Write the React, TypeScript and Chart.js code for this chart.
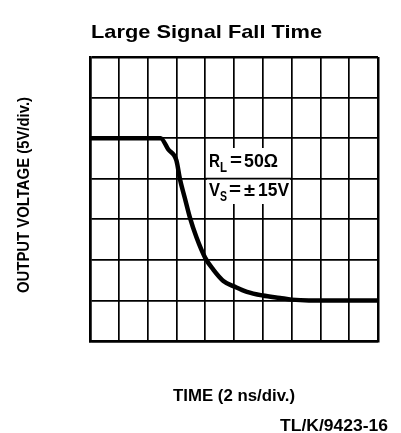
import React, { useEffect, useRef } from "react";
import { Chart, registerables } from "chart.js";

Chart.register(...registerables);

// Time in divisions (2 ns/div), 0..10
const TIME_DIV = [0, 2.45, 2.72, 3.0, 3.12, 3.29, 3.47, 3.7, 4.0, 4.28, 4.63, 5.02, 5.45, 6.0, 6.6, 7.0, 7.6, 10];
// Output voltage in divisions (5 V/div), 0..7
const VOLT_DIV = [5, 5, 4.72, 4.45, 4.0, 3.53, 3.04, 2.55, 2.05, 1.76, 1.48, 1.34, 1.21, 1.12, 1.06, 1.02, 1.0, 1.0];

const X_MAX = 10;
const Y_MAX = 7;

const TITLE = "Large Signal Fall Time";
const Y_LABEL = "OUTPUT VOLTAGE (5V/div.)";
const X_LABEL = "TIME (2 ns/div.)";
const FIG_ID = "TL/K/9423-16";

const FONT = '"Liberation Sans", Arial, sans-serif';

function drawFit(ctx: CanvasRenderingContext2D, text: string, x: number, y: number, w: number, font: string, align: "left" | "center") {
  ctx.save();
  ctx.font = font;
  const m = ctx.measureText(text).width;
  const s = w / m;
  ctx.translate(x, y);
  ctx.scale(s, 1);
  ctx.textAlign = align;
  ctx.textBaseline = "alphabetic";
  ctx.fillText(text, 0, 0);
  ctx.restore();
}

const textPlugin = {
  id: "texts",
  beforeDatasetsDraw(chart: any) {
    const ctx = chart.ctx as CanvasRenderingContext2D;
    const xs = chart.scales.x;
    const ys = chart.scales.y;
    // white box behind annotation
    ctx.save();
    ctx.fillStyle = "#fff";
    ctx.fillRect(207, 148, 83, 56);
    ctx.strokeStyle = "#000";
    ctx.lineWidth = 1.7;
    ctx.beginPath();
    const yl = ys.getPixelForValue(4);
    ctx.moveTo(xs.getPixelForValue(4), yl);
    ctx.lineTo(xs.getPixelForValue(7), yl);
    ctx.stroke();
    ctx.restore();
  },
  afterDraw(chart: any) {
    const ctx = chart.ctx as CanvasRenderingContext2D;
    ctx.save();
    ctx.fillStyle = "#000";
    // title
    drawFit(ctx, TITLE, 91, 38, 231, "bold 19px " + FONT, "left");
    // annotation R_L = 50Ω
    const big = "bold 19px " + FONT;
    const small = "bold 15px " + FONT;
    drawFit(ctx, "R", 209, 167, 11, big, "left");
    drawFit(ctx, "L", 220, 172, 7, small, "left");
    drawFit(ctx, "=", 230, 166, 12, big, "left");
    drawFit(ctx, "50\u03A9", 244, 167, 34, big, "left");
    // V_S = ±15V
    drawFit(ctx, "V", 209, 196, 11, big, "left");
    drawFit(ctx, "S", 220, 201, 7, small, "left");
    drawFit(ctx, "=", 229, 195, 12, big, "left");
    drawFit(ctx, "\u00B1", 244, 196, 11, big, "left");
    drawFit(ctx, "15V", 258, 196, 31, big, "left");
    // x label
    drawFit(ctx, X_LABEL, 234, 401, 122, "bold 17px " + FONT, "center");
    // figure id
    drawFit(ctx, FIG_ID, 280, 431, 108, "bold 17px " + FONT, "left");
    // y label rotated
    ctx.save();
    ctx.translate(29, 195);
    ctx.rotate(-Math.PI / 2);
    drawFit(ctx, Y_LABEL, 0, 0, 196, "bold 17px " + FONT, "center");
    ctx.restore();
    ctx.restore();
  },
};

export default function App() {
  const ref = useRef<HTMLCanvasElement | null>(null);
  useEffect(() => {
    if (!ref.current) return;
    const points = TIME_DIV.map((t, i) => ({ x: t, y: VOLT_DIV[i] }));
    const edgeWidth = (max: number) => (c: any) =>
      c.tick && (c.tick.value === 0 || c.tick.value === max) ? 2.5 : 1.7;
    const chart = new Chart(ref.current, {
      type: "line",
      data: {
        datasets: [
          {
            data: points,
            borderColor: "#000",
            borderWidth: 4.5,
            pointRadius: 0,
            cubicInterpolationMode: "monotone",
            fill: false,
          },
        ],
      },
      options: {
        animation: false,
        responsive: false,
        devicePixelRatio: 1,
        layout: { padding: { left: 90, top: 57, right: 23, bottom: 92 } },
        plugins: { legend: { display: false }, tooltip: { enabled: false }, title: { display: false } },
        scales: {
          x: {
            type: "linear",
            min: 0,
            max: X_MAX,
            ticks: { display: false, stepSize: 1 },
            grid: { color: "#000", lineWidth: edgeWidth(X_MAX), drawTicks: false },
            border: { color: "#000", width: 2.5 },
          },
          y: {
            type: "linear",
            min: 0,
            max: Y_MAX,
            ticks: { display: false, stepSize: 1 },
            grid: { color: "#000", lineWidth: edgeWidth(Y_MAX), drawTicks: false },
            border: { color: "#000", width: 2.5 },
          },
        },
      },
      plugins: [textPlugin],
    });
    return () => chart.destroy();
  }, []);
  return (
    <div style={{ position: "absolute", left: 0, top: 0, width: 401, height: 433, background: "#fff" }}>
      <canvas ref={ref} width={401} height={433} />
    </div>
  );
}
